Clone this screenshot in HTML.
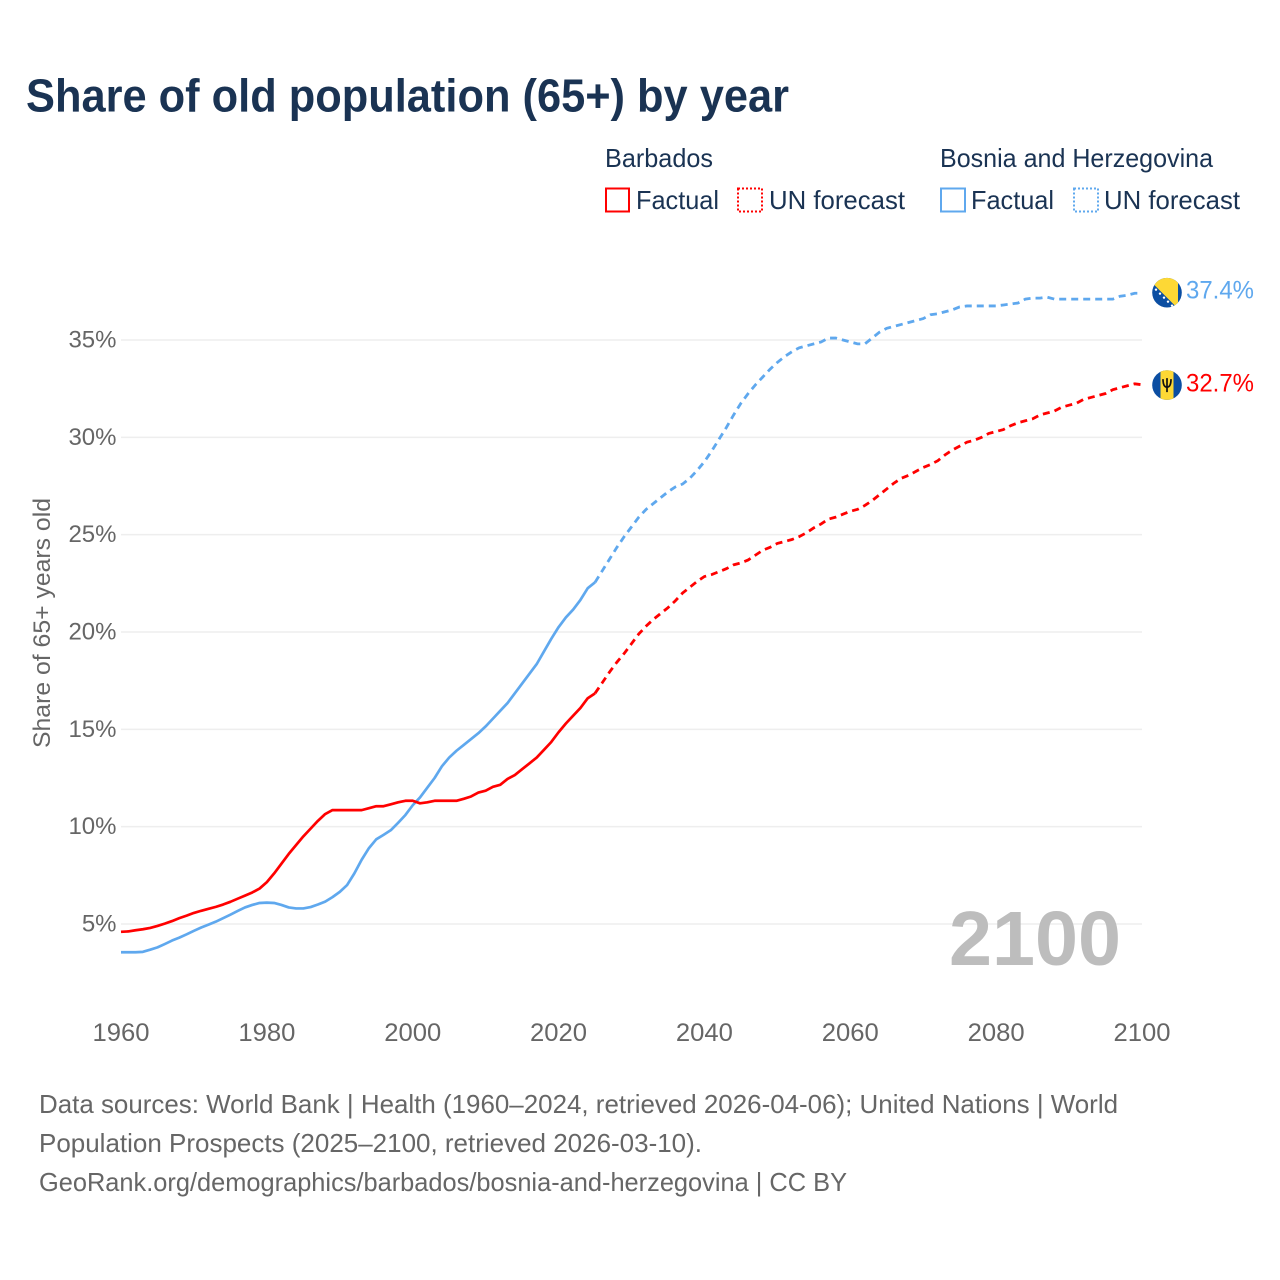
<!DOCTYPE html>
<html lang="en">
<head>
<meta charset="utf-8">
<title>Share of old population (65+) by year</title>
<style>
  html, body { margin: 0; padding: 0; background: #fff; }
  svg { display: block; font-family: "Liberation Sans", Arial, sans-serif; }
</style>
</head>
<body>
<svg id="chart" xmlns="http://www.w3.org/2000/svg" width="1280" height="1280" viewBox="0 0 1280 1280">
  <rect x="0" y="0" width="1280" height="1280" fill="#ffffff"/>
  <text x="26" y="111.5" font-size="46" font-weight="700" fill="#1a3353" textLength="763" lengthAdjust="spacingAndGlyphs">Share of old population (65+) by year</text>

  <g font-size="26" fill="#1a3353">
    <text x="605" y="167" textLength="108" lengthAdjust="spacingAndGlyphs">Barbados</text>
    <rect x="606" y="188.5" width="23" height="23" fill="none" stroke="#ff0000" stroke-width="2"/>
    <text x="636" y="209" textLength="83" lengthAdjust="spacingAndGlyphs">Factual</text>
    <rect x="738" y="188.5" width="24" height="23" fill="none" stroke="#ff0000" stroke-width="2" stroke-dasharray="2 2"/>
    <text x="769" y="209" textLength="136" lengthAdjust="spacingAndGlyphs">UN forecast</text>

    <text x="940" y="167" textLength="273" lengthAdjust="spacingAndGlyphs">Bosnia and Herzegovina</text>
    <rect x="941" y="188.5" width="24" height="23" fill="none" stroke="#5fa8ee" stroke-width="2"/>
    <text x="971" y="209" textLength="83" lengthAdjust="spacingAndGlyphs">Factual</text>
    <rect x="1074" y="188.5" width="24" height="23" fill="none" stroke="#5fa8ee" stroke-width="2" stroke-dasharray="2 2"/>
    <text x="1104" y="209" textLength="136" lengthAdjust="spacingAndGlyphs">UN forecast</text>
  </g>

  <g id="grid"></g>
  <g id="y-ticks"></g>
  <g id="x-ticks"></g>

  <text transform="translate(50,748) rotate(-90)" font-size="24.5" fill="#666666" textLength="250" lengthAdjust="spacingAndGlyphs">Share of 65+ years old</text>

  <text x="949" y="965" font-size="77" font-weight="700" fill="#bdbdbd" textLength="172" lengthAdjust="spacingAndGlyphs">2100</text>

  <g id="series"></g>
  <g id="ends"></g>

  <g font-size="26" fill="#666666">
    <text x="39" y="1113" textLength="1079" lengthAdjust="spacingAndGlyphs">Data sources: World Bank | Health (1960–2024, retrieved 2026-04-06); United Nations | World</text>
    <text x="39" y="1152" textLength="663" lengthAdjust="spacingAndGlyphs">Population Prospects (2025–2100, retrieved 2026-03-10).</text>
    <text x="39" y="1191" textLength="808" lengthAdjust="spacingAndGlyphs">GeoRank.org/demographics/barbados/bosnia-and-herzegovina | CC BY</text>
  </g>
</svg>

<script>
// Chart data (percent of population aged 65+)
var factualStartYear = 1960;
var forecastStartYear = 2025;
var yTickValues = [5, 10, 15, 20, 25, 30, 35];
var yTickLabels = ["5%", "10%", "15%", "20%", "25%", "30%", "35%"];
var xTickValues = [1960, 1980, 2000, 2020, 2040, 2060, 2080, 2100];
var xTickLabels = ["1960", "1980", "2000", "2020", "2040", "2060", "2080", "2100"];

var barbadosFactual = [
  4.6, 4.62, 4.68, 4.73, 4.8, 4.9, 5.02, 5.15, 5.3, 5.43,
  5.57, 5.68, 5.78, 5.88, 6.0, 6.14, 6.3, 6.46, 6.62, 6.82,
  7.15, 7.6, 8.1, 8.6, 9.05, 9.5, 9.9, 10.3, 10.65, 10.85,
  10.85, 10.85, 10.85, 10.85, 10.95, 11.05, 11.05, 11.15, 11.25, 11.33,
  11.33, 11.2, 11.25, 11.33, 11.33, 11.33, 11.33, 11.43, 11.55, 11.75,
  11.85, 12.05, 12.15, 12.45, 12.65, 12.95, 13.25, 13.55, 13.95, 14.35,
  14.85, 15.3, 15.7, 16.1, 16.6, 16.85
];
var barbadosForecast = [
  16.85, 17.4, 17.95, 18.45, 18.9, 19.4, 19.9, 20.3, 20.65, 20.95,
  21.25, 21.6, 22.0, 22.3, 22.6, 22.85, 22.95, 23.1, 23.25, 23.45,
  23.55, 23.7, 23.95, 24.2, 24.35, 24.55, 24.65, 24.75, 24.9, 25.1,
  25.35, 25.55, 25.8, 25.9, 26.05, 26.2, 26.3, 26.5, 26.75, 27.05,
  27.35, 27.65, 27.9, 28.05, 28.25, 28.45, 28.6, 28.8, 29.1, 29.35,
  29.55, 29.75, 29.85, 30.0, 30.2, 30.3, 30.4, 30.6, 30.75, 30.85,
  30.95, 31.15, 31.25, 31.35, 31.55, 31.65, 31.75, 31.95, 32.05, 32.15,
  32.25, 32.45, 32.55, 32.65, 32.75, 32.7
];
var bosniaFactual = [
  3.55, 3.55, 3.55, 3.57, 3.68, 3.8, 3.97, 4.15, 4.3, 4.47,
  4.65, 4.82, 4.97, 5.12, 5.3, 5.48, 5.67, 5.85, 5.98, 6.08,
  6.1, 6.08, 5.98, 5.85, 5.8, 5.8, 5.87, 6.0, 6.15, 6.38,
  6.65, 7.0, 7.6, 8.3, 8.9, 9.35, 9.58, 9.82, 10.2, 10.6,
  11.1, 11.5, 12.0, 12.5, 13.1, 13.55, 13.9, 14.2, 14.5, 14.8,
  15.15, 15.55, 15.95, 16.35, 16.85, 17.35, 17.85, 18.35, 19.0, 19.65,
  20.25, 20.75, 21.15, 21.65, 22.25, 22.55
];
var bosniaForecast = [
  22.55, 23.15, 23.75, 24.35, 24.9, 25.4, 25.9, 26.3, 26.6, 26.9,
  27.2, 27.45, 27.6, 27.9, 28.3, 28.75, 29.3, 29.9, 30.5, 31.15,
  31.75, 32.25, 32.7, 33.1, 33.5, 33.85, 34.15, 34.4, 34.6, 34.7,
  34.8, 34.9, 35.1, 35.1, 35.0, 34.9, 34.8, 34.8, 35.1, 35.4,
  35.6, 35.7, 35.8, 35.9, 36.0, 36.1, 36.3, 36.35, 36.45, 36.55,
  36.7, 36.75, 36.75, 36.75, 36.75, 36.75, 36.8, 36.85, 36.9, 37.1,
  37.15, 37.15, 37.2, 37.1, 37.1, 37.1, 37.1, 37.1, 37.1, 37.1,
  37.1, 37.1, 37.25, 37.3, 37.4, 37.4
];

var SVG_NS = "http://www.w3.org/2000/svg";
var PLOT_LEFT = 121, PLOT_RIGHT = 1142;
var X_MIN = 1960, X_MAX = 2100;
var Y_AT_5 = 924, Y_AT_35 = 340;
var BLUE = "#5fa8ee", RED = "#ff0000";

function xScale(year) {
  return PLOT_LEFT + (year - X_MIN) * (PLOT_RIGHT - PLOT_LEFT) / (X_MAX - X_MIN);
}
function yScale(value) {
  return Y_AT_5 + (value - 5) * (Y_AT_35 - Y_AT_5) / 30;
}
function make(parent, tag, attrs, text) {
  var el = document.createElementNS(SVG_NS, tag);
  for (var k in attrs) el.setAttribute(k, attrs[k]);
  if (text !== undefined) el.textContent = text;
  parent.appendChild(el);
  return el;
}
function toPoints(values, startYear) {
  return values.map(function (v, i) {
    return xScale(startYear + i).toFixed(2) + "," + yScale(v).toFixed(2);
  }).join(" ");
}

var gridGroup = document.getElementById("grid");
var yTickGroup = document.getElementById("y-ticks");
var xTickGroup = document.getElementById("x-ticks");
var seriesGroup = document.getElementById("series");
var endGroup = document.getElementById("ends");

yTickValues.forEach(function (v, i) {
  var y = yScale(v);
  var line = make(gridGroup, "line", { x1: PLOT_LEFT, x2: PLOT_RIGHT, y1: y, y2: y, stroke: "#eeeeee", "stroke-width": 1.5 });
  
  
  var label = make(yTickGroup, "text", { x: 116.5, y: y + 7.5, "text-anchor": "end", "font-size": 24, fill: "#666666" }, yTickLabels[i]);
  
  
});

xTickValues.forEach(function (v, i) {
  var label = make(xTickGroup, "text", { x: xScale(v), y: 1041, "text-anchor": "middle", "font-size": 25, fill: "#666666", textLength: 57, lengthAdjust: "spacingAndGlyphs" }, xTickLabels[i]);
  
  
});

var bosniaFactualLine = make(seriesGroup, "polyline", { points: toPoints(bosniaFactual, factualStartYear), fill: "none", stroke: BLUE, "stroke-width": 2.7, "stroke-linejoin": "round" });



var bosniaForecastLine = make(seriesGroup, "polyline", { points: toPoints(bosniaForecast, forecastStartYear), fill: "none", stroke: BLUE, "stroke-width": 2.8, "stroke-dasharray": "7 5" });



var barbadosFactualLine = make(seriesGroup, "polyline", { points: toPoints(barbadosFactual, factualStartYear), fill: "none", stroke: RED, "stroke-width": 2.7, "stroke-linejoin": "round" });



var barbadosForecastLine = make(seriesGroup, "polyline", { points: toPoints(barbadosForecast, forecastStartYear), fill: "none", stroke: RED, "stroke-width": 2.8, "stroke-dasharray": "7 5" });



// End markers: flags and value labels follow the last value of each series
var flagCx = 1167;
var bosniaEnd = bosniaForecast[bosniaForecast.length - 1];
var barbadosEnd = barbadosForecast[barbadosForecast.length - 1];

var clip = make(endGroup, "clipPath", { id: "flag-clip" });
make(clip, "circle", { cx: 0, cy: 0, r: 14.8 });

var bosniaFlag = make(endGroup, "g", { transform: "translate(" + flagCx + "," + (yScale(bosniaEnd) - 0.6) + ")", "clip-path": "url(#flag-clip)" });


make(bosniaFlag, "rect", { x: -15, y: -15, width: 30, height: 30, fill: "#0b4ea2" });
make(bosniaFlag, "polygon", { points: "-20,-15 11,-15 11,16", fill: "#fdd835" });
[[-11, -3], [-7, 1], [-3, 5], [1, 9], [5, 13]].forEach(function (p) {
  make(bosniaFlag, "circle", { cx: p[0], cy: p[1], r: 1.2, fill: "#ffffff" });
});

var barbadosFlag = make(endGroup, "g", { transform: "translate(" + flagCx + "," + (yScale(barbadosEnd) + 0.3) + ")", "clip-path": "url(#flag-clip)" });


make(barbadosFlag, "rect", { x: -15, y: -15, width: 30, height: 30, fill: "#0b4ea2" });
make(barbadosFlag, "rect", { x: -6.5, y: -15, width: 13, height: 30, fill: "#fdd835" });
make(barbadosFlag, "path", { d: "M-4,-6 Q-4,2 0,2 Q4,2 4,-6 M0,-7 L0,7", fill: "none", stroke: "#111111", "stroke-width": 1.7 });

var bosniaValue = make(endGroup, "text", { x: 1186, y: yScale(bosniaEnd) + 5, "font-size": 25, fill: BLUE, textLength: 68, lengthAdjust: "spacingAndGlyphs" }, bosniaEnd.toFixed(1) + "%");



var barbadosValue = make(endGroup, "text", { x: 1186, y: yScale(barbadosEnd) + 6.5, "font-size": 25, fill: RED, textLength: 68, lengthAdjust: "spacingAndGlyphs" }, barbadosEnd.toFixed(1) + "%");


</script>
</body>
</html>
